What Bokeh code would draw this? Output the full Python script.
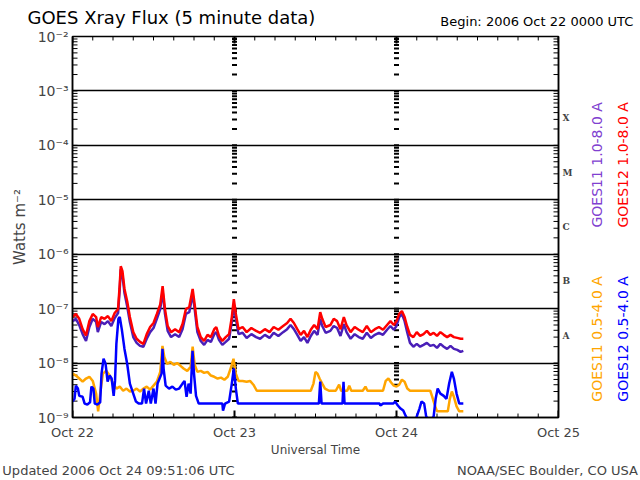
from bokeh.plotting import figure
from bokeh.models import (LinearAxis, LogAxis, FixedTicker, CustomJSTickFormatter,
                          Label, Range1d)
from bokeh.embed import file_html
from bokeh.resources import INLINE

# ---------------- data (time in hours since 2006 Oct 22 00:00 UTC, flux in W m^-2) -------------
day_labels = ["Oct 22", "Oct 23", "Oct 24", "Oct 25"]
class_labels = ["A", "B", "C", "M", "X"]
footer_labels = ["Updated 2006 Oct 24 09:51:06 UTC", "NOAA/SEC Boulder, CO USA"]

long_t = [0.0, 0.5, 1.0, 1.5, 2.0, 2.5, 3.0, 3.5, 3.75, 4.25, 4.75, 5.25, 5.75, 6.25, 6.75, 7.0,
          7.15, 7.4, 7.7, 8.1, 8.5, 9.0, 9.5, 10.0, 10.5, 11.0, 11.5, 12.0, 12.5, 13.0, 13.35, 13.7,
          14.1, 14.6, 15.2, 15.8, 16.3, 16.8, 17.3, 17.8, 18.1, 18.5, 19.0, 19.5, 20.0, 20.5, 21.0,
          21.3, 21.7, 22.2, 22.7, 23.2, 23.6, 23.9, 24.2, 24.6, 25.2, 25.8, 26.5, 27.2, 27.8, 28.5,
          29.2, 29.8, 30.5, 31.2, 31.8, 32.3, 32.8, 33.3, 33.8, 34.3, 34.8, 35.3, 35.8, 36.3, 36.7,
          37.0, 37.5, 38.2, 38.7, 39.2, 39.7, 40.2, 40.6, 41.2, 41.8, 42.4, 43.0, 43.6, 44.2, 44.8,
          45.4, 46.0, 46.6, 47.1, 47.6, 48.0, 48.4, 48.8, 49.2, 49.6, 50.0, 50.5, 51.0, 51.5, 52.0,
          52.5, 53.0, 53.5, 54.0, 54.5, 55.0, 55.5, 56.0, 56.5, 57.0, 57.5, 57.9]

goes12_long = [7.0e-8, 8.0e-8, 6.5e-8, 4.2e-8, 3.2e-8, 5.9e-8, 8.0e-8, 7.0e-8, 4.6e-8, 7.0e-8,
               6.5e-8, 7.3e-8, 5.9e-8, 8.3e-8, 9.8e-8, 2.8e-7, 6.0e-7, 4.9e-7, 2.3e-7, 1.37e-7,
               7.0e-8, 3.7e-8, 2.8e-8, 2.45e-8, 2.25e-8, 3.4e-8, 4.6e-8, 5.45e-8, 8.0e-8, 1.2e-7,
               2.6e-7, 9.8e-8, 4.8e-8, 3.7e-8, 4.2e-8, 3.7e-8, 5.2e-8, 9.8e-8, 1.07e-7, 2.3e-7,
               1.2e-7, 4.6e-8, 3.0e-8, 2.55e-8, 3.3e-8, 3.0e-8, 4.2e-8, 4.6e-8, 3.15e-8, 2.55e-8,
               3.0e-8, 3.4e-8, 7.0e-8, 1.5e-7, 8.0e-8, 4.2e-8, 4.6e-8, 3.7e-8, 4.4e-8, 3.9e-8,
               3.6e-8, 4.2e-8, 3.7e-8, 4.6e-8, 4.1e-8, 4.8e-8, 5.45e-8, 6.5e-8, 5.45e-8, 4.2e-8,
               3.3e-8, 3.9e-8, 3.0e-8, 4.1e-8, 5.0e-8, 4.2e-8, 8.6e-8, 6.5e-8, 4.6e-8, 5.0e-8,
               6.5e-8, 5.9e-8, 4.2e-8, 7.0e-8, 5.0e-8, 3.7e-8, 4.6e-8, 4.1e-8, 3.7e-8, 4.8e-8,
               3.7e-8, 4.2e-8, 4.6e-8, 4.1e-8, 5.0e-8, 5.9e-8, 5.0e-8, 5.9e-8, 8.0e-8, 9.0e-8,
               7.0e-8, 4.6e-8, 3.3e-8, 3.0e-8, 3.7e-8, 3.15e-8, 3.4e-8, 3.9e-8, 3.3e-8, 3.6e-8,
               3.15e-8, 3.7e-8, 3.3e-8, 3.0e-8, 3.3e-8, 3.0e-8, 2.9e-8, 2.8e-8, 2.8e-8]

goes11_long = [5.9e-8, 6.5e-8, 5.0e-8, 3.4e-8, 2.55e-8, 4.6e-8, 6.5e-8, 5.7e-8, 3.7e-8, 5.7e-8,
               5.2e-8, 5.9e-8, 4.8e-8, 6.7e-8, 8.3e-8, 2.3e-7, 5.3e-7, 4.1e-7, 1.93e-7, 1.11e-7,
               5.7e-8, 3.0e-8, 2.35e-8, 2.07e-8, 2.0e-8, 2.8e-8, 3.7e-8, 4.4e-8, 6.5e-8, 9.8e-8,
               2.1e-7, 8.0e-8, 3.9e-8, 3.0e-8, 3.4e-8, 3.0e-8, 4.2e-8, 8.0e-8, 8.6e-8, 1.85e-7,
               9.8e-8, 3.7e-8, 2.55e-8, 2.16e-8, 2.67e-8, 2.45e-8, 3.4e-8, 3.7e-8, 2.67e-8, 2.16e-8,
               2.45e-8, 2.8e-8, 5.7e-8, 1.16e-7, 6.5e-8, 3.4e-8, 3.6e-8, 2.9e-8, 3.4e-8, 3.0e-8,
               2.8e-8, 3.3e-8, 2.9e-8, 3.6e-8, 3.15e-8, 3.7e-8, 4.2e-8, 5.0e-8, 4.2e-8, 3.3e-8,
               2.55e-8, 3.0e-8, 2.35e-8, 3.15e-8, 3.9e-8, 3.3e-8, 6.5e-8, 4.8e-8, 3.6e-8, 3.9e-8,
               4.8e-8, 4.4e-8, 3.15e-8, 5.2e-8, 3.7e-8, 2.8e-8, 3.4e-8, 3.0e-8, 2.8e-8, 3.6e-8,
               2.9e-8, 3.3e-8, 3.6e-8, 3.3e-8, 4.1e-8, 4.8e-8, 4.1e-8, 4.8e-8, 7.0e-8, 8.0e-8,
               5.9e-8, 3.6e-8, 2.35e-8, 2.0e-8, 2.25e-8, 2.0e-8, 2.16e-8, 2.35e-8, 2.07e-8, 2.16e-8,
               1.9e-8, 2.25e-8, 2.0e-8, 1.82e-8, 2.07e-8, 1.82e-8, 1.75e-8, 1.61e-8, 1.68e-8]

g11_short_t = [0.0, 0.5, 1.0, 1.5, 2.0, 2.5, 3.0, 3.5, 3.8, 4.1, 4.5, 5.0, 5.5, 6.0, 6.5, 7.0,
               7.5, 8.0, 8.5, 9.0, 9.5, 10.0, 10.5, 11.0, 11.5, 12.0, 12.5, 13.0, 13.33, 13.6,
               14.0, 14.5, 15.0, 15.5, 16.0, 16.5, 17.0, 17.5, 17.8, 18.1, 18.5, 19.0, 19.5,
               20.0, 20.5, 21.0, 21.5, 22.0, 22.5, 23.0, 23.6, 23.85, 24.2, 24.6, 25.2, 25.8,
               26.3, 26.8, 27.3, 35.3, 35.7, 36.0, 36.3, 36.6, 37.0, 37.4, 38.0, 39.0, 39.5,
               39.8, 40.7, 41.0, 41.3, 43.0, 43.4, 43.7, 46.0, 46.4, 46.8, 47.2, 47.6, 48.0,
               48.4, 48.8, 49.2, 49.6, 50.0, 53.0, 53.3, 53.6, 54.0, 55.6, 55.9, 56.2, 56.5,
               56.9, 57.3, 57.9]
goes11_short = [6.4e-9, 5.9e-9, 5.2e-9, 4.55e-9, 5.2e-9, 5.6e-9, 4.7e-9, 2.75e-9, 1.3e-9, 2.75e-9,
                6.4e-9, 7.2e-9, 5.9e-9, 4.2e-9, 3.4e-9, 3.7e-9, 3.1e-9, 3.4e-9, 3.0e-9, 3.1e-9,
                3.4e-9, 3.0e-9, 3.4e-9, 3.7e-9, 3.25e-9, 3.85e-9, 4.55e-9, 6.9e-9, 2.07e-8, 1.3e-8,
                9.7e-9, 1.05e-8, 9.3e-9, 1.0e-8, 8.9e-9, 7.85e-9, 7.2e-9, 8.55e-9, 2.0e-8, 9.3e-9,
                6.9e-9, 7.2e-9, 6.6e-9, 6.9e-9, 5.9e-9, 5.6e-9, 5.2e-9, 5.4e-9, 4.95e-9, 5.6e-9,
                9.3e-9, 1.2e-8, 6.4e-9, 4.7e-9, 4.7e-9, 4.55e-9, 4.7e-9, 4.0e-9, 3.1e-9, 3.1e-9,
                4.2e-9, 6.9e-9, 6.4e-9, 5.2e-9, 4.2e-9, 3.4e-9, 3.1e-9, 3.1e-9, 4.0e-9, 3.1e-9,
                3.1e-9, 3.85e-9, 3.1e-9, 3.1e-9, 3.7e-9, 3.1e-9, 3.1e-9, 4.7e-9, 5.2e-9, 4.4e-9,
                3.85e-9, 3.7e-9, 4.0e-9, 4.95e-9, 4.55e-9, 3.4e-9, 3.1e-9, 3.1e-9, 2.4e-9, 1.8e-9,
                1.3e-9, 1.3e-9, 2.2e-9, 3.0e-9, 2.4e-9, 1.6e-9, 1.3e-9, 1.3e-9]

g12_short_t = [0.0, 0.3, 0.5, 0.8, 1.0, 1.5, 1.8, 2.2, 2.6, 2.8, 3.1, 3.3, 3.7, 4.1, 4.3, 4.6,
               4.9, 5.2, 5.5, 5.8, 6.1, 6.3, 6.5, 6.8, 7.0, 7.3, 7.7, 8.1, 8.5, 9.0, 9.4, 9.8,
               10.3, 10.6, 10.9, 11.3, 11.6, 12.0, 12.3, 12.6, 12.9, 13.2, 13.33, 13.5, 13.8,
               14.3, 14.8, 15.3, 15.8, 16.3, 16.6, 16.9, 17.2, 17.5, 17.78, 18.0, 18.3, 18.7,
               22.2, 22.3, 22.6, 23.2, 23.6, 23.9, 24.2, 24.5, 36.5, 36.7, 36.9, 40.0, 40.15,
               40.3, 45.5, 45.6, 46.0, 47.5, 47.8, 48.2, 48.6, 49.0, 49.4, 50.0, 50.8, 51.4,
               51.7, 52.1, 52.4, 53.0, 53.5, 53.8, 54.1, 54.5, 55.0, 55.4, 55.8, 56.2, 56.5,
               56.9, 57.3, 57.9]
goes12_short = [1.96e-9, 2.2e-9, 3.85e-9, 3.4e-9, 2.5e-9, 2.4e-9, 1.8e-9, 1.73e-9, 1.9e-9, 3.7e-9,
                3.4e-9, 1.8e-9, 1.73e-9, 1.9e-9, 6.4e-9, 1.2e-8, 9.7e-9, 4.55e-9, 5.9e-9, 5.2e-9,
                2.5e-9, 4.7e-9, 2.25e-8, 6.5e-8, 7.0e-8, 4.2e-8, 1.82e-8, 9.7e-9, 4.2e-9, 2.75e-9,
                1.96e-9, 1.8e-9, 1.8e-9, 3.4e-9, 1.8e-9, 3.1e-9, 1.8e-9, 3.4e-9, 1.8e-9, 4.2e-9,
                5.2e-9, 6.4e-9, 1.82e-8, 7.85e-9, 3.85e-9, 3.4e-9, 3.7e-9, 3.25e-9, 3.4e-9, 4.2e-9,
                4.7e-9, 2.4e-9, 4.2e-9, 2.75e-9, 1.68e-8, 6.4e-9, 2.5e-9, 1.8e-9, 1.8e-9, 1.34e-9,
                1.8e-9, 1.96e-9, 4.2e-9, 8.0e-9, 3.4e-9, 1.8e-9, 1.8e-9, 4.55e-9, 1.8e-9, 1.8e-9,
                4.55e-9, 1.8e-9, 1.8e-9, 1.66e-9, 1.8e-9, 1.8e-9, 1.96e-9, 1.66e-9, 1.46e-9,
                1.34e-9, 1.04e-9, 8.1e-10, 8.8e-10, 1.46e-9, 1.96e-9, 1.8e-9, 1.04e-9, 8.8e-10,
                1.04e-9, 2.2e-9, 3.4e-9, 2.75e-9, 2.5e-9, 2.2e-9, 4.2e-9, 6.9e-9, 5.2e-9, 2.75e-9,
                1.8e-9, 1.8e-9]

# ---------------- figure geometry ----------------
FONT = "DejaVu Sans"
X0, X1, Y0, Y1 = 0, 72, 1e-9, 1e-2
FL, FR, FT, FB = 72, 558, 36, 419            # frame edges in canvas pixels
PPH = (FR - FL) / (X1 - X0)                  # pixels per hour
PPD = (FB - FT) / 7.0                        # pixels per decade


def hx(px):
    return X0 + (px - FL) / PPH


def fy(py):
    return 10 ** (-2 - (py - FT) / PPD)


decades = [10.0 ** e for e in range(-9, -1)]
minor_log = [k * 10.0 ** e for e in range(-9, -2) for k in range(1, 10)] + [1e-2]
day_ticks = [0, 24, 48, 72]
hour_ticks = list(range(0, 73, 3))

p = figure(width=640, height=480, x_range=Range1d(X0, X1), y_range=Range1d(Y0, Y1),
           y_axis_type="log", output_backend="svg", toolbar_location=None,
           min_border_left=FL, min_border_right=640 - FR, min_border_top=FT,
           min_border_bottom=480 - FB)
p.title.visible = False
p.outline_line_color = "black"
p.outline_line_width = 1.5
p.background_fill_color = "white"
p.border_fill_color = "white"

day_fmt = CustomJSTickFormatter(args=dict(labels=day_labels),
                                code="return labels[Math.round(tick / 24)];")
sup_fmt = CustomJSTickFormatter(code="""
const s = {'-': '\u207b', '0': '\u2070', '1': '\u00b9', '2': '\u00b2', '3': '\u00b3', '4': '\u2074',
           '5': '\u2075', '6': '\u2076', '7': '\u2077', '8': '\u2078', '9': '\u2079'};
const e = Math.round(Math.log10(tick));
return '10' + String(e).split('').map(c => s[c]).join('');
""")

xa = p.xaxis[0]
xa.ticker = FixedTicker(ticks=day_ticks)
xa.formatter = day_fmt
xa.major_tick_in = 0
xa.major_tick_out = 0
xa.minor_tick_in = 0
xa.minor_tick_out = 0
xa.major_label_standoff = 7
xa.major_label_text_font = FONT
xa.major_label_text_font_size = "13px"
xa.axis_label = "Universal Time"
xa.axis_label_text_font = FONT
xa.axis_label_text_font_size = "12px"
xa.axis_label_text_font_style = "normal"
xa.axis_label_standoff = 0
xa.axis_line_width = 1.5

# footer texts as a second, line-less bottom axis
foot = LinearAxis(ticker=FixedTicker(ticks=[hx(118), hx(547)]),
                  formatter=CustomJSTickFormatter(args=dict(labels=footer_labels),
                                                  code="return labels[index];"),
                  axis_line_color=None, major_tick_in=0, major_tick_out=0,
                  minor_tick_in=0, minor_tick_out=0, major_label_standoff=3,
                  major_label_text_font=FONT, major_label_text_font_size="13px")
p.add_layout(foot, "below")

ya = p.yaxis[0]
ya.ticker = FixedTicker(ticks=decades)
ya.formatter = sup_fmt
ya.major_tick_in = 0
ya.major_tick_out = 0
ya.minor_tick_in = 0
ya.minor_tick_out = 0
ya.major_label_standoff = 4
ya.major_label_text_font = FONT
ya.major_label_text_font_size = "14px"
ya.axis_label = "Watts m\u207b\u00b2"
ya.axis_label_text_font = FONT
ya.axis_label_text_font_size = "15px"
ya.axis_label_text_font_style = "normal"
ya.axis_label_standoff = 6
ya.axis_line_width = 1.5

class_ticks = [10.0 ** (e + 0.5) for e in range(-8, -3)]
right = LogAxis(ticker=FixedTicker(ticks=class_ticks),
                formatter=CustomJSTickFormatter(args=dict(labels=class_labels),
                                                code="return labels[Math.round(Math.log10(tick) + 7.5)];"),
                major_tick_in=0, major_tick_out=0, minor_tick_in=0, minor_tick_out=0,
                major_label_standoff=4, major_label_text_font="DejaVu Serif",
                major_label_text_font_style="bold", major_label_text_font_size="9px",
                axis_line_width=1.5)
p.add_layout(right, "right")

p.xgrid.visible = False
p.ygrid.ticker = FixedTicker(ticks=decades)
p.ygrid.grid_line_color = "black"
p.ygrid.grid_line_alpha = 1.0
p.ygrid.grid_line_width = 1.5

# ---------------- inward tick marks (start inside the frame, run out past the edge) ----------
n_minor = len(minor_log)
ytick_len = 5 / PPH
p.segment([X0 + ytick_len] * n_minor, minor_log, [X0 - ytick_len] * n_minor, minor_log,
          line_color="black", line_width=1)
p.segment([X1 - ytick_len] * n_minor, minor_log, [X1 + ytick_len] * n_minor, minor_log,
          line_color="black", line_width=1)
for ticks, length, lw in ((hour_ticks, 4, 1), (day_ticks, 7, 2)):
    n = len(ticks)
    f = 10 ** (length / PPD)
    p.segment(ticks, [Y0 * f] * n, ticks, [Y0 / f] * n, line_color="black", line_width=lw)
    p.segment(ticks, [Y1 / f] * n, ticks, [Y1 * f] * n, line_color="black", line_width=lw)
# log tick marks along the day boundaries
half = 2.5 / PPH
for d in day_ticks[1:3]:
    p.segment([d - half] * n_minor, minor_log, [d + half] * n_minor, minor_log,
              line_color="black", line_width=2)

# ---------------- data lines ----------------
PURPLE = "#4a1fb8"
p.line(long_t, goes11_long, line_color=PURPLE, line_width=2.5)
p.line(long_t, goes12_long, line_color="#ff0000", line_width=2.5)
p.line(g11_short_t, goes11_short, line_color="#ffa500", line_width=2.5)
p.line(g12_short_t, goes12_short, line_color="#0000ff", line_width=2.5)


# ---------------- labels placed in side panels (not clipped to the frame) ----------------
def lab(side, text, px, py, size, color="black", align="left", angle=0, font=FONT):
    p.add_layout(Label(x=hx(px), y=fy(py), text=text, text_font=font, text_font_size=size,
                       text_color=color, text_align=align, text_baseline="middle",
                       angle=angle, angle_units="deg"), side)


lab("above", "GOES Xray Flux (5 minute data)", 27, 17, "18px")
lab("above", "Begin:  2006 Oct 22 0000 UTC", 637, 21, "13px", align="right")
lab("right", "GOES11 1.0-8.0 A", 596, 165, "14px", color="#8040d0", align="center", angle=90)
lab("right", "GOES12 1.0-8.0 A", 622, 165, "14px", color="#ff0000", align="center", angle=90)
lab("right", "GOES11 0.5-4.0 A", 596, 340, "14px", color="#ffa500", align="center", angle=90)
lab("right", "GOES12 0.5-4.0 A", 622, 340, "14px", color="#0000ff", align="center", angle=90)

open("out.html", "w").write(file_html(p, INLINE))
